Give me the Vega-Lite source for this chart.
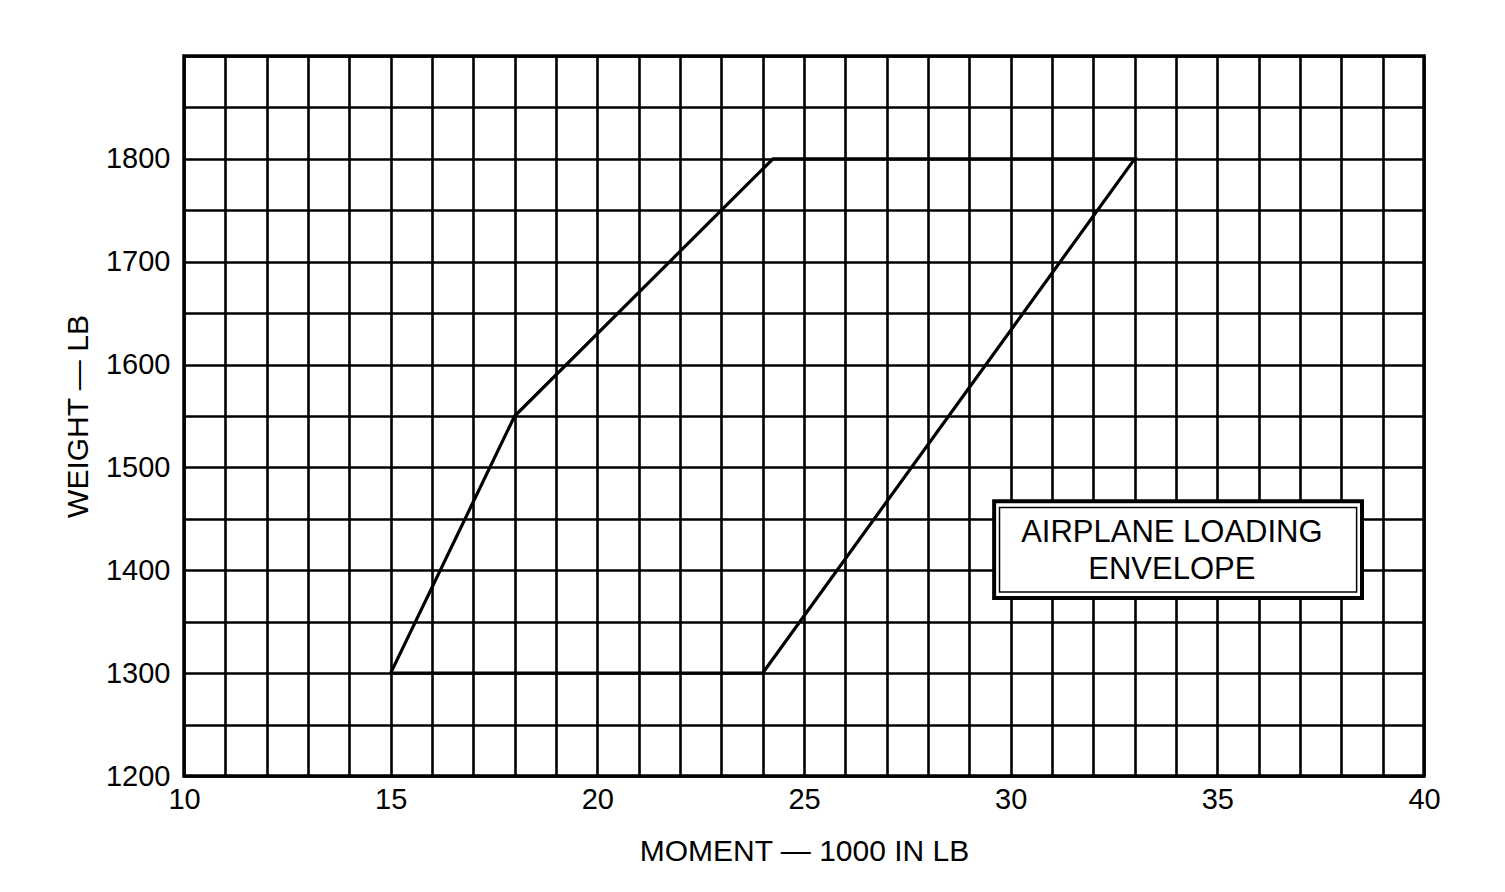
{
  "$schema": "https://vega.github.io/schema/vega-lite/v6.json",
  "width": 1240,
  "height": 720,
  "autosize": {"type": "none"},
  "padding": {"left": 184, "top": 56, "right": 81, "bottom": 116},
  "background": "white",
  "config": {
    "view": {"stroke": "black", "strokeWidth": 3.5},
    "axis": {
      "grid": true,
      "gridColor": "black",
      "gridOpacity": 1,
      "gridWidth": 2.6,
      "domain": false,
      "ticks": false,
      "labelFlush": false,
      "labelFont": "Liberation Sans",
      "labelFontSize": 29,
      "labelColor": "black",
      "titleFont": "Liberation Sans",
      "titleFontSize": 30,
      "titleFontWeight": "normal",
      "titleColor": "black"
    }
  },
  "layer": [
    {
      "data": {"values": [
        {"moment": 15, "weight": 1300, "order": 1},
        {"moment": 18, "weight": 1550, "order": 2},
        {"moment": 24.25, "weight": 1800, "order": 3},
        {"moment": 33, "weight": 1800, "order": 4},
        {"moment": 24, "weight": 1300, "order": 5},
        {"moment": 15, "weight": 1300, "order": 6}
      ]},
      "mark": {"type": "line", "color": "black", "strokeWidth": 3.2},
      "encoding": {
        "x": {
          "field": "moment", "type": "quantitative",
          "scale": {"domain": [10, 40], "nice": false, "zero": false},
          "axis": {
            "values": [10,11,12,13,14,15,16,17,18,19,20,21,22,23,24,25,26,27,28,29,30,31,32,33,34,35,36,37,38,39,40],
            "labelExpr": "datum.value % 5 === 0 ? datum.label : ''",
            "labelPadding": 9,
            "title": "MOMENT  —  1000  IN  LB",
            "titlePadding": 22
          }
        },
        "y": {
          "field": "weight", "type": "quantitative",
          "scale": {"domain": [1200, 1900], "nice": false, "zero": false},
          "axis": {
            "values": [1200,1250,1300,1350,1400,1450,1500,1550,1600,1650,1700,1750,1800,1850,1900],
            "format": "d",
            "labelExpr": "datum.value % 100 === 0 && datum.value < 1900 ? datum.label : ''",
            "labelPadding": 14,
            "title": "WEIGHT  —  LB",
            "titlePadding": 12
          }
        },
        "order": {"field": "order", "type": "quantitative"}
      }
    },
    {
      "data": {"values": [
        {"x1": 29.6, "x2": 38.5, "y1": 1373, "y2": 1467}
      ]},
      "mark": {"type": "rect", "fill": "white", "stroke": "black", "strokeWidth": 4},
      "encoding": {
        "x": {"field": "x1", "type": "quantitative"},
        "x2": {"field": "x2"},
        "y": {"field": "y1", "type": "quantitative"},
        "y2": {"field": "y2"}
      }
    },
    {
      "data": {"values": [
        {"x1": 29.73, "x2": 38.37, "y1": 1379, "y2": 1461}
      ]},
      "mark": {"type": "rect", "fill": null, "stroke": "black", "strokeWidth": 1.5},
      "encoding": {
        "x": {"field": "x1", "type": "quantitative"},
        "x2": {"field": "x2"},
        "y": {"field": "y1", "type": "quantitative"},
        "y2": {"field": "y2"}
      }
    },
    {
      "data": {"values": [
        {"x": 33.9, "y": 1436, "label": "AIRPLANE LOADING"},
        {"x": 33.9, "y": 1400, "label": "ENVELOPE"}
      ]},
      "mark": {"type": "text", "font": "Liberation Sans", "fontSize": 31, "color": "black", "align": "center", "baseline": "middle"},
      "encoding": {
        "x": {"field": "x", "type": "quantitative"},
        "y": {"field": "y", "type": "quantitative"},
        "text": {"field": "label"}
      }
    }
  ]
}
